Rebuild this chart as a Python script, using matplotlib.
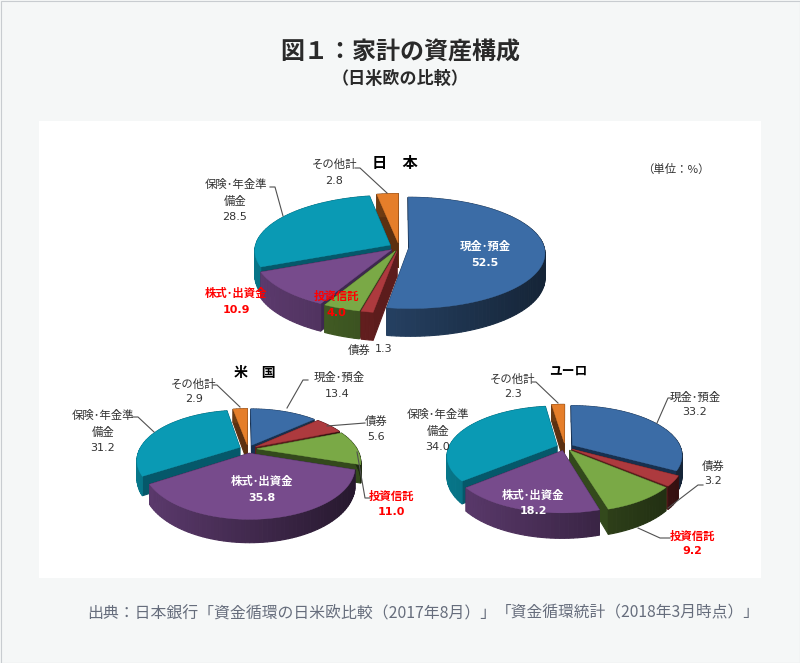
#! /usr/bin/env python
import math
import numpy as np
import matplotlib
matplotlib.use("Agg")
import matplotlib.pyplot as plt
from matplotlib.patches import Polygon, Rectangle

plt.rcParams['font.family'] = ['Noto Sans CJK JP', 'DejaVu Sans']

# values in the order they go round the pie, clockwise from 12 o'clock
categories = ['現金･預金', '債券', '投資信託', '株式･出資金', '保険･年金準備金', 'その他計']
japan_values = [52.5, 1.3, 4.0, 10.9, 28.5, 2.8]
usa_values = [13.4, 5.6, 11.0, 35.8, 31.2, 2.9]
euro_values = [33.2, 3.2, 9.2, 18.2, 34.0, 2.3]

top_colors = ['#3b6ca6', '#ad3a3e', '#7aa946', '#774b8c', '#0a9ab4', '#e57e2a']
cut_colors = ['#17304f', '#5c1c1c', '#33491c', '#3e2850', '#05586a', '#5c3010']
wall_colors = ['#3a6498', '#8f2c2c', '#56782f', '#6a437e', '#08869c', '#a85a1c']

GREY = '#505050'
RED = '#ff0000'


def project(u, v, p):
    s = 1.0 / (1.0 - p['k'] * v)
    return p['cx'] + p['rx'] * u * s, p['cy'] + p['ry'] * v * s, s


def shade(color, f):
    rgb = np.array(matplotlib.colors.to_rgb(color))
    return tuple(np.clip(rgb * f, 0, 1))


def draw_pie(ax, values, p):
    total = sum(values)
    start = 0.0
    slices = []
    for i, val in enumerate(values):
        a0 = start / total * 2 * math.pi
        a1 = (start + val) / total * 2 * math.pi
        start += val
        mid = (a0 + a1) / 2
        e = p['explode']
        ou, ov = e * math.sin(mid), -e * math.cos(mid)
        angs = np.linspace(a0, a1, max(4, int(val * 2)))
        us = ou + np.sin(angs)
        vs = ov - np.cos(angs)
        slices.append((i, ou, ov, us, vs))

    # back slices first
    slices.sort(key=lambda t: t[2] + np.mean(t[4]))
    for i, ou, ov, us, vs in slices:
        d = p['depth']
        pts = [project(ou, ov, p)] + [project(u, v, p) for u, v in zip(us, vs)]
        quads = []
        # two cut faces
        for q in (pts[1], pts[-1]):
            poly = [(pts[0][0], pts[0][1]), (q[0], q[1]),
                    (q[0], q[1] + d * q[2]), (pts[0][0], pts[0][1] + d * pts[0][2])]
            quads.append((q[1], poly, cut_colors[i]))
        # rim, lighter on the left and dark on the right
        for j in range(1, len(pts) - 1):
            a, b = pts[j], pts[j + 1]
            poly = [(a[0], a[1]), (b[0], b[1]), (b[0], b[1] + d * b[2]), (a[0], a[1] + d * a[2])]
            xm = ((a[0] + b[0]) / 2 - p['cx']) / p['rx']
            quads.append((a[1] + 1000, poly, shade(wall_colors[i], 0.62 - 0.24 * xm)))
        quads.sort(key=lambda t: t[0])
        for _, poly, col in quads:
            ax.add_patch(Polygon(poly, closed=True, facecolor=col, edgecolor=col, linewidth=0.8))
        ax.add_patch(Polygon([(a[0], a[1]) for a in pts], closed=True,
                             facecolor=top_colors[i], edgecolor=top_colors[i], linewidth=0.3))


def label(ax, x, y, txt, color='#333333', bold=False, size=8.2):
    ax.text(x, y + 1, txt, ha='center', va='center', color=color, fontsize=size,
            fontweight='bold' if bold else 'normal')


def number(ax, x, y, val, color='#333333', bold=False):
    ax.text(x, y, '%.1f' % val, ha='center', va='center', color=color, fontsize=8,
            family='DejaVu Sans', fontweight='bold' if bold else 'normal')


def leader(ax, xs, ys):
    ax.plot(xs, ys, color=GREY, linewidth=0.8, solid_joinstyle='round')


fig = plt.figure(figsize=(8.0, 6.63), dpi=100, facecolor='#f5f7f7')
ax = fig.add_axes([0, 0, 1, 1])
ax.set_xlim(0, 800)
ax.set_ylim(663, 0)
ax.axis('off')

# thin frame round the whole card, white panel behind the pies
ax.add_patch(Rectangle((0.5, 0.5), 799, 662, facecolor='none', edgecolor='#c8ccd0', linewidth=0.8))
ax.add_patch(Rectangle((39, 121), 722, 457, facecolor='white', edgecolor='none'))

ax.text(400, 53, '図１：家計の資産構成', ha='center', va='center', fontsize=17.3,
        fontweight='bold', color='#2a2a2a')
ax.text(400, 79, '（日米欧の比較）', ha='center', va='center', fontsize=12.3,
        fontweight='bold', color='#2a2a2a')
ax.text(87, 613, '出典：日本銀行「資金循環の日米欧比較（2017年8月）」', ha='left', va='center',
        fontsize=11.45, color='#666d7c')
ax.text(760, 613, '「資金循環統計（2018年3月時点）」', ha='right', va='center',
        fontsize=11.3, color='#666d7c')

draw_pie(ax, japan_values, dict(cx=399, cy=247, rx=135, ry=55, k=0.1, depth=25, explode=0.075))
draw_pie(ax, usa_values, dict(cx=248, cy=449, rx=100, ry=47, k=0.25, depth=17, explode=0.09))
draw_pie(ax, euro_values, dict(cx=565, cy=447, rx=108, ry=48, k=0.2, depth=20, explode=0.08))

# leader lines
leader(ax, [270, 275, 283], [187, 187, 216])
leader(ax, [355, 360, 387], [168, 168, 193])
leader(ax, [308, 303, 287], [380, 380, 408])
leader(ax, [365, 327], [423, 426])
leader(ax, [370, 365, 357], [498, 498, 452])
leader(ax, [213, 217, 240], [385, 385, 407])
leader(ax, [132, 138, 154], [417, 417, 432])
leader(ax, [672, 668, 657], [398, 398, 423])
leader(ax, [703, 698, 668], [485, 485, 508])
leader(ax, [670, 660, 638], [538, 538, 528])
leader(ax, [532, 536, 558], [382, 382, 403])

# Japan
label(ax, 395, 162, '日　本', color='black', bold=True, size=11)
label(ax, 335, 163, 'その他計')
number(ax, 334, 181, japan_values[5])
label(ax, 236, 183, '保険･年金準')
label(ax, 235, 200, '備金')
number(ax, 235, 217, japan_values[4])
label(ax, 485, 245, '現金･預金', color='white', bold=True)
number(ax, 485, 263, japan_values[0], color='white', bold=True)
label(ax, 236, 293, '株式･出資金', color=RED, bold=True)
number(ax, 236, 310, japan_values[3], color=RED, bold=True)
label(ax, 336, 295, '投資信託', color=RED, bold=True)
number(ax, 336, 313, japan_values[2], color=RED, bold=True)
label(ax, 359, 349, '債券')
number(ax, 384, 349, japan_values[1])
label(ax, 676, 168, '（単位：%）')

# USA
label(ax, 255, 372, '米　国', color='black', bold=True, size=10)
label(ax, 194, 383, 'その他計')
number(ax, 194, 399, usa_values[5])
label(ax, 103, 414, '保険･年金準')
label(ax, 103, 431, '備金')
number(ax, 103, 448, usa_values[4])
label(ax, 339, 376, '現金･預金')
number(ax, 337, 394, usa_values[0])
label(ax, 376, 420, '債券')
number(ax, 376, 437, usa_values[1])
label(ax, 391, 495, '投資信託', color=RED, bold=True)
number(ax, 391, 512, usa_values[2], color=RED, bold=True)
label(ax, 262, 481, '株式･出資金', color='white', bold=True)
number(ax, 262, 498, usa_values[3], color='white', bold=True)

# Euro
label(ax, 568, 370, 'ユーロ', color='black', bold=True, size=9.2)
label(ax, 513, 378, 'その他計')
number(ax, 513, 394, euro_values[5])
label(ax, 438, 413, '保険･年金準')
label(ax, 438, 430, '備金')
number(ax, 438, 447, euro_values[4])
label(ax, 695, 396, '現金･預金')
number(ax, 695, 412, euro_values[0])
label(ax, 713, 465, '債券')
number(ax, 713, 481, euro_values[1])
label(ax, 692, 535, '投資信託', color=RED, bold=True)
number(ax, 692, 551, euro_values[2], color=RED, bold=True)
label(ax, 533, 495, '株式･出資金', color='white', bold=True)
number(ax, 533, 511, euro_values[3], color='white', bold=True)

fig.savefig('out.png', dpi=100, facecolor=fig.get_facecolor())
